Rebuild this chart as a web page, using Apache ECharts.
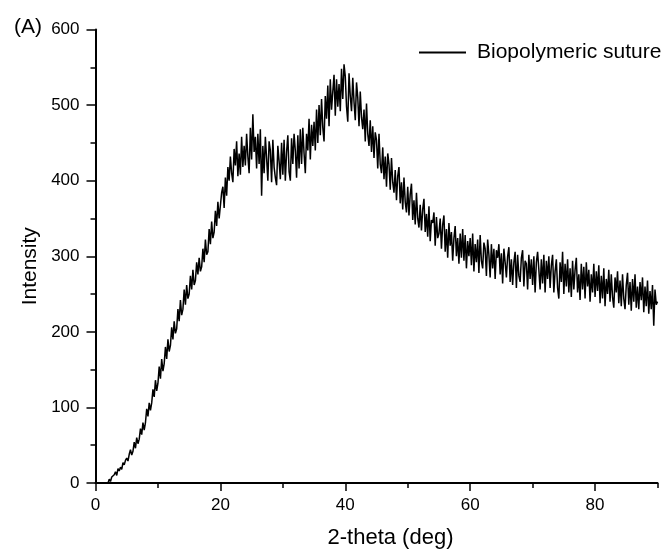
<!DOCTYPE html>
<html><head><meta charset="utf-8">
<script src="https://cdn.jsdelivr.net/npm/echarts@6/dist/echarts.min.js"></script>
<style>html,body{margin:0;padding:0;background:#fff}#c{width:662px;height:549px}</style>
</head><body><div id="c"></div>
<script>
// 2-theta sampling grid (deg)
const thetaStart = 2;
const thetaStep = 0.2;
// Intensity values, 5 samples per degree from 2 to 90 deg
const intensity = [
  0, 5, 2, 8, 7,           // 2
  11, 15, 10, 19, 16,      // 3
  21, 18, 27, 24, 30,      // 4
  33, 29, 38, 44, 37,      // 5
  42, 54, 46, 60, 52,      // 6
  58, 72, 64, 80, 70,      // 7
  80, 98, 88, 106, 96,     // 8
  106, 124, 114, 136, 122, // 9
  132, 154, 138, 164, 148, // 10
  158, 180, 164, 190, 174, // 11
  182, 206, 190, 214, 198, // 12
  204, 230, 214, 242, 222, // 13
  230, 256, 236, 262, 244, // 14
  250, 274, 256, 282, 262, // 15
  268, 292, 276, 298, 280, // 16
  286, 310, 292, 322, 302, // 17
  306, 336, 316, 346, 324, // 18
  332, 360, 340, 372, 350, // 19
  350, 384, 392, 364, 404, // 20
  380, 418, 400, 432, 410, // 21
  398, 442, 420, 452, 406, // 22
  436, 408, 458, 418, 446, // 23
  420, 462, 432, 410, 470, // 24
  428, 488, 438, 458, 416, // 25
  462, 422, 468, 380, 446, // 26
  410, 458, 430, 400, 452, // 27
  440, 398, 454, 418, 404, // 28
  394, 446, 426, 402, 450, // 29
  408, 454, 400, 438, 460, // 30
  412, 400, 456, 422, 462, // 31
  440, 404, 460, 416, 468, // 32
  422, 470, 436, 410, 462, // 33
  440, 482, 428, 474, 446, // 34
  478, 440, 494, 450, 500, // 35
  460, 508, 470, 452, 512, // 36
  482, 526, 472, 534, 494, // 37
  518, 540, 486, 534, 498, // 38
  528, 492, 548, 508, 554, // 39
  538, 498, 478, 542, 512, // 40
  492, 536, 504, 480, 530, // 41
  510, 472, 518, 484, 468, // 42
  494, 452, 502, 462, 446, // 43
  480, 438, 472, 430, 464, // 44
  454, 416, 462, 422, 410, // 45
  444, 402, 432, 392, 436, // 46
  422, 388, 430, 398, 384, // 47
  414, 374, 406, 418, 370, // 48
  398, 362, 404, 372, 358, // 49
  392, 354, 382, 396, 348, // 50
  374, 342, 384, 350, 338, // 51
  368, 334, 362, 376, 332, // 52
  356, 326, 366, 320, 348, // 53
  344, 358, 314, 352, 324, // 54
  330, 350, 310, 342, 354, // 55
  306, 336, 298, 344, 314, // 56
  332, 294, 324, 340, 300, // 57
  324, 290, 330, 298, 336, // 58
  294, 328, 284, 320, 300, // 59
  324, 288, 330, 280, 316, // 60
  292, 322, 278, 328, 294, // 61
  284, 318, 310, 274, 322, // 62
  302, 272, 316, 284, 310, // 63
  270, 308, 298, 316, 276, // 64
  304, 264, 310, 292, 272, // 65
  300, 312, 266, 296, 262, // 66
  292, 306, 258, 302, 274, // 67
  266, 298, 308, 260, 294, // 68
  290, 256, 302, 270, 296, // 69
  262, 300, 252, 292, 306, // 70
  282, 256, 296, 264, 302, // 71
  252, 294, 270, 300, 258, // 72
  288, 302, 252, 280, 296, // 73
  258, 244, 292, 266, 306, // 74
  250, 290, 260, 296, 252, // 75
  284, 246, 294, 256, 282, // 76
  298, 252, 276, 242, 290, // 77
  256, 286, 244, 292, 260, // 78
  282, 240, 276, 252, 290, // 79
  246, 280, 254, 288, 238, // 80
  274, 244, 284, 234, 270, // 81
  250, 282, 240, 276, 246, // 82
  232, 272, 252, 280, 238, // 83
  268, 234, 276, 244, 230, // 84
  262, 278, 236, 266, 228, // 85
  270, 240, 276, 232, 260, // 86
  230, 266, 242, 272, 226, // 87
  260, 234, 268, 224, 254, // 88
  230, 262, 208, 256, 236, // 89
  240                      // 90
];
const seriesName = 'Biopolymeric suture';
const xMajorTicks = [0, 20, 40, 60, 80];
const panelLabel = '(A)';
const xName = '2-theta (deg)';
const yName = 'Intensity';

const FONT = '"Liberation Sans", Arial, Helvetica, sans-serif';
const data = intensity.map((v, i) => [Math.round((thetaStart + i * thetaStep) * 100) / 100, v]);

const chart = echarts.init(document.getElementById('c'), null, {renderer: 'canvas'});
chart.setOption({
  animation: false,
  backgroundColor: '#fff',
  textStyle: {fontFamily: FONT, color: '#000'},
  grid: {left: 95.5, right: 4.5, top: 29.5, bottom: 66, containLabel: false, outerBoundsMode: 'none'},
  legend: {
    data: [{name: seriesName, icon: 'rect'}],
    left: 419, top: 42, padding: 0,
    itemWidth: 47, itemHeight: 2,
    itemStyle: {color: '#000'},
    textStyle: {fontSize: 21, color: '#000', fontFamily: FONT, padding: [0, 0, 0, 6]}
  },
  xAxis: [{
    type: 'value', min: 0, max: 90, interval: 10, position: 'bottom',
    axisLine: {show: true, onZero: false, lineStyle: {color: '#000', width: 2}},
    axisTick: {show: true, length: 5, lineStyle: {color: '#000', width: 1.5}},
    axisLabel: {
      formatter: v => (v % 20 === 0 ? String(v) : ''),
      fontSize: 17, color: '#000', margin: 14, fontFamily: FONT
    },
    splitLine: {show: false},
    name: xName, nameLocation: 'middle', nameGap: 44,
    nameTextStyle: {fontSize: 22, color: '#000', fontFamily: FONT, padding: [0, 0, 0, 28]}
  }, {
    type: 'value', min: 0, max: 90, position: 'bottom',
    axisLine: {show: false, onZero: false},
    axisTick: {show: true, length: 8, customValues: xMajorTicks, lineStyle: {color: '#000', width: 1.5}},
    axisLabel: {show: false},
    splitLine: {show: false}
  }],
  yAxis: {
    type: 'value', min: 0, max: 600, interval: 100,
    axisLine: {show: true, lineStyle: {color: '#000', width: 2}},
    axisTick: {show: true, length: 9, lineStyle: {color: '#000', width: 1.5}},
    minorTick: {show: true, splitNumber: 2, length: 5, lineStyle: {color: '#000', width: 1.5}},
    axisLabel: {fontSize: 17, color: '#000', margin: 16, fontFamily: FONT},
    splitLine: {show: false},
    name: yName, nameLocation: 'middle', nameGap: 55,
    nameTextStyle: {fontSize: 21, color: '#000', fontFamily: FONT, padding: [0, 20, 0, 0]}
  },
  graphic: [{
    type: 'text', left: 14, top: 17,
    style: {text: panelLabel, fontSize: 21, fill: '#000', font: '21px ' + FONT}
  }],
  series: [{
    type: 'line', name: seriesName, data: data,
    xAxisIndex: 0, yAxisIndex: 0,
    symbol: 'none', showSymbol: false, sampling: null,
    lineStyle: {color: '#000', width: 1.5},
    itemStyle: {color: '#000'}
  }]
});
</script>
</body></html>
